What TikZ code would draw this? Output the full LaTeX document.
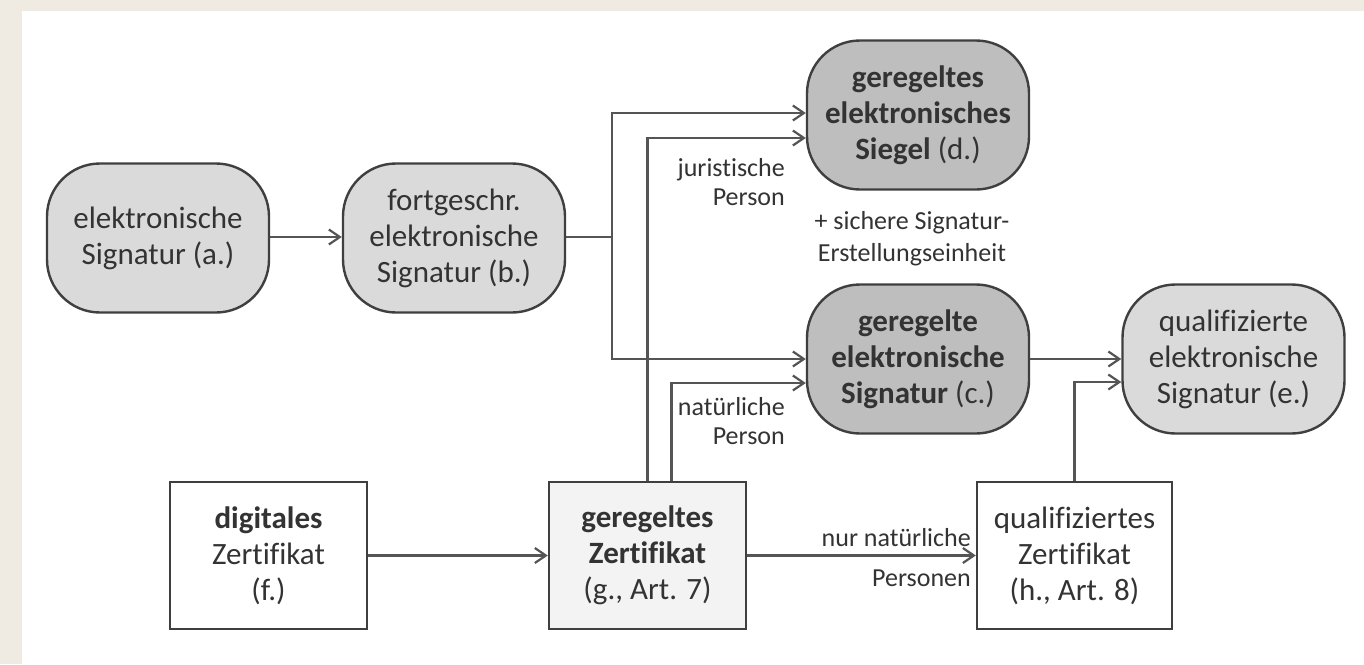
\documentclass[tikz,border=0pt]{standalone}
\usepackage{fontspec}
\setmainfont{Carlito}[Ligatures=CommonOff]
\usetikzlibrary{arrows.meta,calc}
\definecolor{bgbeige}{HTML}{EFEBE3}
\definecolor{lightfill}{HTML}{DADADA}
\definecolor{darkfill}{HTML}{BEBEBE}
\definecolor{certfill}{HTML}{F3F3F3}
\definecolor{edgecol}{HTML}{3F3F3F}
\definecolor{wirecol}{HTML}{555555}
\definecolor{ink}{HTML}{333333}
\begin{document}
\begin{tikzpicture}[x=1pt,y=-1pt,
  sig/.style={draw=edgecol, line width=2.4pt, rounded corners=53pt,
    minimum width=222pt, minimum height=149pt, inner sep=0pt,
    align=center, text=ink, font=\fontsize{31}{36}\selectfont},
  sigl/.style={sig, fill=lightfill},
  sigd/.style={sig, fill=darkfill},
  cert/.style={draw=edgecol, line width=2.4pt, fill=white,
    minimum width=197pt, minimum height=147pt, inner sep=0pt,
    align=center, text=ink, font=\fontsize{31}{36}\selectfont},
  wire/.style={draw=wirecol, line width=2.2pt},
  arr/.style={wire, -{Straight Barb[length=11pt,width=15pt]}},
  lbl/.style={text=ink, font=\fontsize{26}{29}\selectfont, inner sep=0pt},
]
% page background and white sheet
\fill[bgbeige] (0,0) rectangle (1364,664);
\fill[white] (22,11) rectangle (1364,664);
\useasboundingbox (0,0) rectangle (1364,664);

% signature levels
\node[sigl] (a) at (158,238) {elektronische\\Signatur (a.)};
\node[sigl] (b) at (454,238) {fortgeschr.\\elektronische\\Signatur (b.)};
\node[sigd] (d) at (918,115) {\textbf{geregeltes}\\\textbf{elektronisches}\\\textbf{Siegel} (d.)};
\node[sigd] (c) at (918,359) {\textbf{geregelte}\\\textbf{elektronische}\\\textbf{Signatur} (c.)};
\node[sigl] (e) at (1233.5,359) {qualifizierte\\elektronische\\Signatur (e.)};

% certificates
\node[cert] (f) at (268.5,555.5) {\textbf{digitales}\\Zertifikat\\(f.)};
\node[cert, fill=certfill] (g) at (647.5,555.5) {\textbf{geregeltes}\\\textbf{Zertifikat}\\(g., Art. 7)};
\node[cert, minimum width=195pt] (h) at (1074.5,555.5) {qualifiziertes\\Zertifikat\\(h., Art. 8)};

% connectors
\coordinate (jb) at (612,237);
\draw[wire] (b.east |- jb) -- (jb);
\draw[arr] (jb) |- ([yshift=2pt]d.west);
\draw[arr] (jb) |- (c.west);
\draw[arr] (g.north) |- ([yshift=-23pt]d.west);
\draw[arr] ([xshift=24pt]g.north) |- ([yshift=-24pt]c.west);
\draw[arr] (a.east |- jb) -- (b.west |- jb);
\draw[arr] (c) -- (e);
\draw[arr] (h.north) |- ([yshift=-23pt]e.west);
\draw[arr] (f) -- (g);
\draw[arr] (g) -- (h);

% labels
\node[lbl, anchor=east, align=right] (jur) at (785,182.5) {juristische\\Person};
\node[lbl, anchor=east, align=right] (nat) at (785,421.5) {natürliche\\Person};
\node[lbl, align=center, font=\fontsize{26}{32}\selectfont] (sse) at (912,239) {+ sichere Signatur-\\Erstellungseinheit};
\node[lbl, anchor=base east] (nur) at (971,546) {nur natürliche};
\node[lbl, anchor=base east] (pers) at (971,586) {Personen};
\end{tikzpicture}
\end{document}
